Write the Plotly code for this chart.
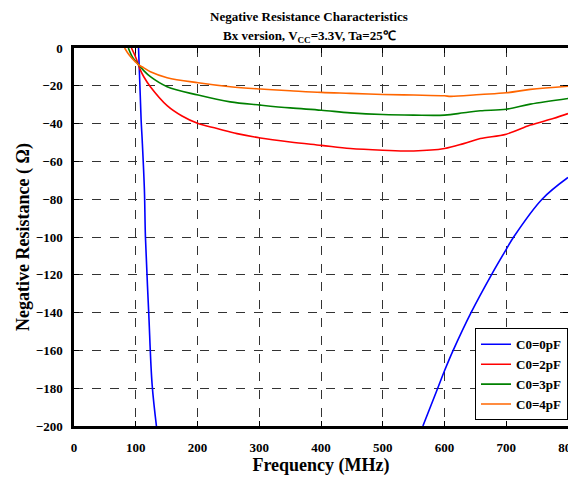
import plotly.graph_objects as go

# C0=0pF (two visible branches, gap where below -200)
f0 = [103.5, 104.5, 108.7, 110.5, 114, 115.7, 121, 126.5, 133.5, None,
      565, 589, 601, 614, 643, 676, 700, 712, 758, 800]
r0 = [5, 0, -38, -49, -75, -100, -140, -178, -200, None,
      -200, -180, -170, -160, -140, -120, -106.5, -100, -80, -68.5]

f2 = [93, 100, 105, 107.6, 113, 123.7, 150.8, 175, 201, 231.7, 264, 301.8, 350, 400.5,
      447.5, 500, 550, 600, 631, 658, 700, 739, 776, 800]
r2 = [0, -5, -9.5, -11.7, -15.2, -20.5, -30.5, -36, -40, -42.6, -45.3, -47.6, -49.7, -51.5,
      -53.2, -54.1, -54.5, -53.2, -50.6, -47.9, -45.6, -40.8, -37.3, -34.7]

f3 = [88, 95, 105, 113, 123.7, 150.8, 201, 253, 301.8, 350, 400.5, 447.5, 500, 550,
      600, 631, 658, 700, 739, 800]
r3 = [0, -5, -9, -12, -15.2, -20.5, -24.9, -28.5, -30.2, -31.7, -32.9, -34.3, -35.2, -35.5,
      -35.5, -34.3, -33.2, -32.4, -29.7, -26.7]

f4 = [82, 90, 100, 105, 113, 123.7, 150.8, 201, 253, 301.8, 350, 400.5, 447.5, 500,
      550, 600, 610, 658, 700, 739, 800]
r4 = [0, -4, -7.5, -9, -10.5, -12.6, -15.7, -18.4, -20.5, -21.7, -22.6, -23.5, -24, -24.6,
      -24.9, -25.3, -25.6, -24.6, -23.7, -21.9, -20.2]

names = ["C0=0pF", "C0=2pF", "C0=3pF", "C0=4pF"]
colors = ["#0000ff", "#ff0000", "#008000", "#ff6600"]

x_ticks = [0, 100, 200, 300, 400, 500, 600, 700, 800]
y_ticks = [0, -20, -40, -60, -80, -100, -120, -140, -160, -180, -200]

FONT = "Liberation Serif"

fig = go.Figure()
for fx, ry, nm, c in zip([f0, f2, f3, f4], [r0, r2, r3, r4], names, colors):
    fig.add_trace(go.Scatter(x=fx, y=ry, mode="lines", name=nm,
                             line=dict(color=c, width=1.6, shape="spline", smoothing=1.0),
                             connectgaps=False))

axis_common = dict(
    showline=True, linecolor="black", linewidth=2.5, mirror="ticks",
    ticks="inside", ticklen=5, tickcolor="black", tickwidth=1,
    showgrid=True, gridcolor="#333333", griddash="dash", gridwidth=1,
    zeroline=False, automargin=False, ticklabeloverflow="allow",
    tickfont=dict(family=FONT, size=13, color="black", weight="bold"),
)

fig.update_xaxes(range=[0, 800], tickvals=x_ticks, ticklabelstandoff=8, **axis_common,
                 title=dict(text="<b>Frequency (MHz)</b>",
                            font=dict(family=FONT, size=18, color="black"), standoff=4))
fig.update_yaxes(range=[-200, 0], tickvals=y_ticks, ticklabelstandoff=6, **axis_common,
                 title=dict(text="<b>Negative Resistance ( Ω)</b>",
                            font=dict(family=FONT, size=18, color="black"), standoff=2))

fig.add_annotation(text="<b>Negative Resistance Characteristics</b>",
                   xref="paper", yref="paper", x=0.476, y=1, yshift=22,
                   showarrow=False, font=dict(family=FONT, size=13, color="black"),
                   xanchor="center", yanchor="bottom")
fig.add_annotation(text="<b>Bx version, V<sub>CC</sub>=3.3V, Ta=25℃</b>",
                   xref="paper", yref="paper", x=0.476, y=1, yshift=1,
                   showarrow=False, font=dict(family=FONT, size=13, color="black"),
                   xanchor="center", yanchor="bottom")

# page body has an 8px default margin, so the figure is sized/placed to compensate
fig.update_layout(
    width=568, height=469,
    margin=dict(l=66, r=8, t=40, b=51, autoexpand=False),
    paper_bgcolor="white", plot_bgcolor="white",
    showlegend=True,
    legend=dict(x=1, y=0.015, xanchor="right", yanchor="bottom",
                bgcolor="white", bordercolor="black", borderwidth=1,
                font=dict(family=FONT, size=13, color="black", weight="bold"),
                tracegroupgap=0, itemwidth=30),
)

fig.write_html("out.html")
